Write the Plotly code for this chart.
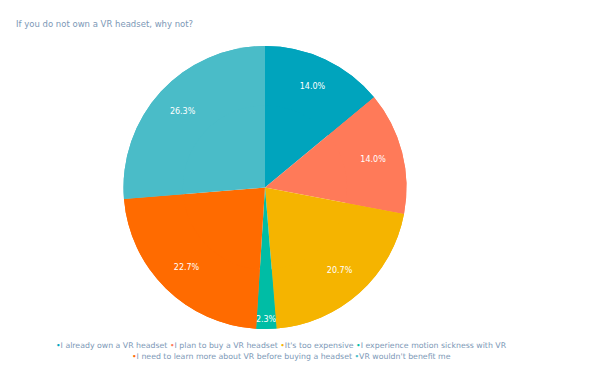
import plotly.graph_objects as go

labels = [
    "I already own a VR headset",
    "I plan to buy a VR headset",
    "It's too expensive",
    "I experience motion sickness with VR",
    "I need to learn more about VR before buying a headset",
    "VR wouldn't benefit me",
]
values = [14.0, 14.0, 20.7, 2.3, 22.7, 26.3]
colors = ["#00A4BD", "#FF7A59", "#F5B400", "#00BDA5", "#FF6B00", "#4ABCC8"]
title = "If you do not own a VR headset, why not?"
legend_rows = [[0, 1, 2, 3], [4, 5]]

W, H = 600, 370
domain = dict(x=[123 / W, 407 / W], y=[(H - 329) / H, (H - 46) / H])

common = dict(
    labels=labels, values=values,
    marker=dict(colors=colors, line=dict(width=0)),
    sort=False, direction="clockwise", rotation=0,
    showlegend=False, domain=domain,
)

# full pie (slices)
fig = go.Figure(go.Pie(
    **common,
    textinfo="none",
    hoverinfo="label+percent",
))
# ring overlay carrying the percentage labels placed toward the rim
fig.add_trace(go.Pie(
    **common,
    hole=0.58,
    texttemplate="%{value:.1f}%",
    textposition="inside",
    insidetextorientation="horizontal",
    textfont=dict(color="white", size=8, family="DejaVu Sans"),
    hoverinfo="skip",
))

# legend rendered as text rows with coloured bullets (built from labels/colors)
row_x = [281 / W, 291 / W]
for r, row in enumerate(legend_rows):
    txt = " ".join(
        f"<span style='color:{colors[i]}'>•</span>{labels[i]}" for i in row
    )
    fig.add_annotation(
        text=txt, xref="paper", yref="paper",
        x=row_x[r], y=(H - (345 + 11 * r)) / H,
        xanchor="center", yanchor="middle", showarrow=False,
        font=dict(family="DejaVu Sans", size=7.8, color="#7C98B6"),
    )

fig.update_layout(
    width=W, height=H,
    paper_bgcolor="white", plot_bgcolor="white",
    margin=dict(l=0, r=0, t=0, b=0),
    uniformtext=dict(minsize=8, mode="show"),
    title=dict(text=title, x=16 / W, xanchor="left", y=(H - 24) / H, yanchor="middle",
               font=dict(family="DejaVu Sans", size=8.5, color="#7C98B6")),
    font=dict(family="DejaVu Sans", size=8, color="#7C98B6"),
)

fig.write_html("out.html", config={"displayModeBar": False},
               post_script="document.body.style.margin='0';")
